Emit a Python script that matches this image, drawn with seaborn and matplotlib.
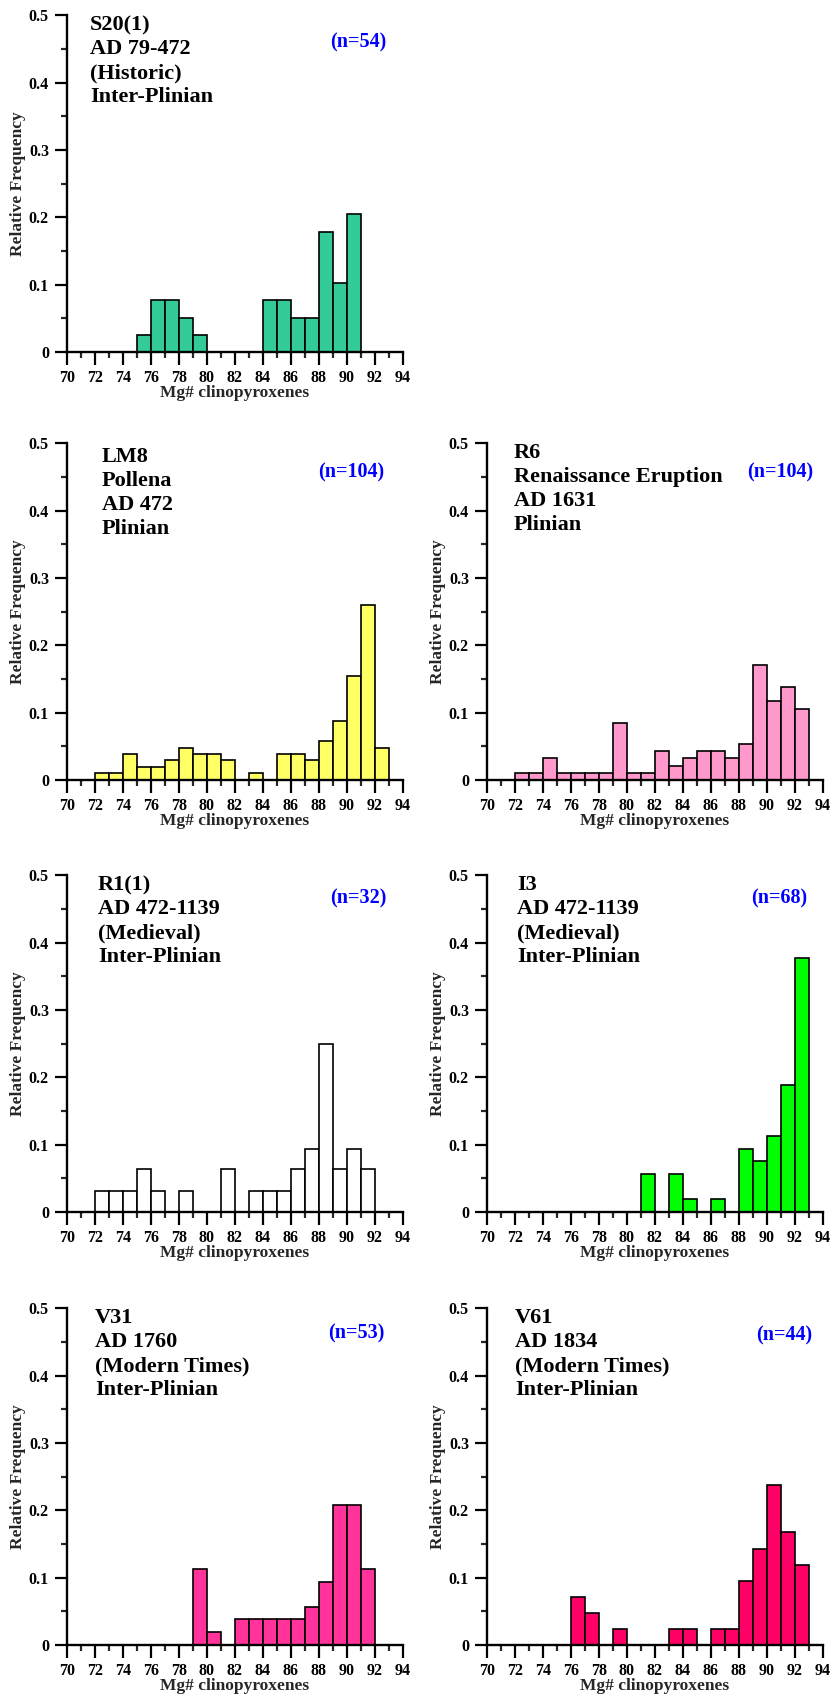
import numpy as np
import pandas as pd
import matplotlib
matplotlib.use("Agg")
import matplotlib.pyplot as plt
from matplotlib.ticker import MultipleLocator
import seaborn as sns

# ---------------- data (bin left edges, 1-unit bins) ----------------
bin_edges = list(range(70, 95))
xticks = list(range(70, 95, 2))

s20_bins = [75, 76, 77, 78, 79, 84, 85, 86, 87, 88, 89, 90]
s20_freq = [0.026, 0.077, 0.077, 0.051, 0.026, 0.077, 0.077, 0.051, 0.051, 0.179, 0.103, 0.205]

lm8_bins = [72, 73, 74, 75, 76, 77, 78, 79, 80, 81, 83, 85, 86, 87, 88, 89, 90, 91, 92]
lm8_freq = [0.010, 0.010, 0.039, 0.019, 0.019, 0.029, 0.048, 0.038, 0.038, 0.029, 0.010,
            0.038, 0.038, 0.029, 0.058, 0.087, 0.154, 0.260, 0.048]

r6_bins = [72, 73, 74, 75, 76, 77, 78, 79, 80, 81, 82, 83, 84, 85, 86, 87, 88, 89, 90, 91, 92]
r6_freq = [0.011, 0.011, 0.032, 0.011, 0.011, 0.011, 0.011, 0.085, 0.011, 0.011, 0.043,
           0.021, 0.032, 0.043, 0.043, 0.032, 0.053, 0.170, 0.117, 0.138, 0.106]

r1_bins = [72, 73, 74, 75, 76, 78, 81, 83, 84, 85, 86, 87, 88, 89, 90, 91]
r1_freq = [0.031, 0.031, 0.031, 0.063, 0.031, 0.031, 0.063, 0.031, 0.031, 0.031,
           0.063, 0.094, 0.250, 0.063, 0.094, 0.063]

i3_bins = [81, 83, 84, 86, 88, 89, 90, 91, 92]
i3_freq = [0.057, 0.057, 0.019, 0.019, 0.094, 0.075, 0.113, 0.189, 0.377]

v31_bins = [79, 80, 82, 83, 84, 85, 86, 87, 88, 89, 90, 91]
v31_freq = [0.113, 0.019, 0.038, 0.038, 0.038, 0.038, 0.038, 0.057, 0.094, 0.208, 0.208, 0.113]

v61_bins = [76, 77, 79, 83, 84, 86, 87, 88, 89, 90, 91, 92]
v61_freq = [0.071, 0.048, 0.024, 0.024, 0.024, 0.024, 0.024, 0.095, 0.143, 0.238, 0.167, 0.119]

labels = [
    "S20(1)\nAD 79-472\n(Historic)\nInter-Plinian",
    "LM8\nPollena\nAD 472\nPlinian",
    "R6\nRenaissance Eruption\nAD 1631\nPlinian",
    "R1(1)\nAD 472-1139\n(Medieval)\nInter-Plinian",
    "I3\nAD 472-1139\n(Medieval)\nInter-Plinian",
    "V31\nAD 1760\n(Modern Times)\nInter-Plinian",
    "V61\nAD 1834\n(Modern Times)\nInter-Plinian",
]
n_labels = ["(n=54)", "(n=104)", "(n=104)", "(n=32)", "(n=68)", "(n=53)", "(n=44)"]
colors = ["#33CC99", "#FFFF66", "#FF99CC", "#FFFFFF", "#00FF00", "#FF3399", "#FF0066"]

series = [(s20_bins, s20_freq), (lm8_bins, lm8_freq), (r6_bins, r6_freq), (r1_bins, r1_freq),
          (i3_bins, i3_freq), (v31_bins, v31_freq), (v61_bins, v61_freq)]

# ---------------- layout ----------------
sns.set_style("ticks")
plt.rcParams['font.family'] = ['Liberation Serif', 'DejaVu Serif']
plt.rcParams['font.weight'] = 'bold'
plt.rcParams['axes.labelweight'] = 'bold'

fig = plt.figure(figsize=(8.32, 17), dpi=100)

W, H = 0.4038, 0.1981
lefts = [0.0805, 0.0805, 0.5853, 0.0805, 0.5853, 0.0805, 0.5853]
bottoms = [0.7929, 0.5412, 0.5412, 0.2871, 0.2871, 0.0324, 0.0324]
text_pos = [(0.068, 1.0), (0.104, 0.99), (0.080, 1.0), (0.092, 1.0), (0.089, 1.0), (0.083, 1.0), (0.083, 1.0)]
n_pos = [(0.866, 0.918), (0.845, 0.914), (0.872, 0.914), (0.866, 0.932), (0.869, 0.932), (0.860, 0.926), (0.884, 0.920)]

for i, ((bins, freq), col) in enumerate(zip(series, colors)):
    ax = fig.add_axes([lefts[i], bottoms[i], W, H])
    df = pd.DataFrame({"mg": np.array(bins) + 0.5, "f": freq})
    sns.histplot(data=df, x="mg", weights="f", bins=bin_edges, stat="count",
                 color=col, alpha=1.0, edgecolor="black", linewidth=1.2, ax=ax)
    ax.set_xlim(70, 94)
    ax.set_ylim(0, 0.5)
    ax.set_xticks(xticks)
    ax.xaxis.set_minor_locator(MultipleLocator(1))
    ax.set_yticks([0, 0.1, 0.2, 0.3, 0.4, 0.5])
    ax.set_yticklabels(["0", "0.1", "0.2", "0.3", "0.4", "0.5"])
    ax.yaxis.set_minor_locator(MultipleLocator(0.05))
    ax.tick_params(which="major", direction="out", length=9, width=1.6, labelsize=11.5,
                   colors="black", pad=4)
    ax.tick_params(which="minor", direction="out", length=4.5, width=1.6)
    for lab in ax.get_xticklabels() + ax.get_yticklabels():
        lab.set_fontweight("bold")
    for sp in ["top", "right"]:
        ax.spines[sp].set_visible(False)
    for sp in ["left", "bottom"]:
        ax.spines[sp].set_linewidth(1.7)
        ax.spines[sp].set_color("black")
    ax.set_xlabel("Mg# clinopyroxenes", fontsize=12.5, fontweight="bold", labelpad=-1)
    ax.set_ylabel("Relative Frequency", fontsize=12.5, fontweight="bold", labelpad=2)
    ax.text(text_pos[i][0], text_pos[i][1], labels[i], transform=ax.transAxes,
            ha="left", va="top", fontsize=16, fontweight="bold", linespacing=1.27, color="black")
    ax.text(n_pos[i][0], n_pos[i][1], n_labels[i], transform=ax.transAxes,
            ha="center", va="center", fontsize=14.5, fontweight="bold", color="#0000FF")

fig.savefig("out.png", dpi=100)
